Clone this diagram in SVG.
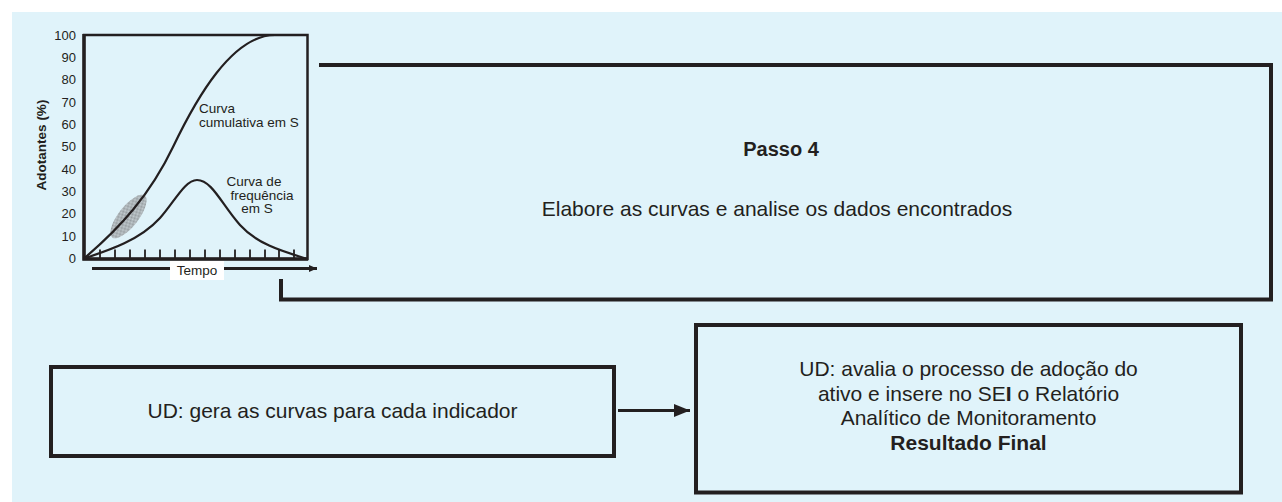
<svg xmlns="http://www.w3.org/2000/svg" width="1282" height="502" viewBox="0 0 1282 502">
<style>
text{font-family:"Liberation Sans",Arial,Helvetica,sans-serif;fill:#231f20}
.box{fill:#e0f3fa;stroke:#231f20;stroke-width:4}
.big{font-size:21px}
.ax{font-size:13px}
.lbl{font-size:13.5px}
.ln{fill:none;stroke:#231f20}
</style>
<defs>
<pattern id="hatch" width="2" height="2" patternUnits="userSpaceOnUse">
<rect width="2" height="2" fill="#c4ccd0"/>
<rect width="1" height="1" fill="#8a8f92"/>
<rect x="1" y="1" width="1" height="1" fill="#8a8f92"/>
</pattern>
<marker id="ah" markerWidth="8" markerHeight="8" refX="8" refY="4" orient="auto" markerUnits="userSpaceOnUse">
<path d="M0,0.5 L8,4 L0,7.5 Z" fill="#231f20"/>
</marker>
</defs>
<rect x="12" y="12" width="1270" height="490" fill="#e0f3fa"/>

<g id="chart">
<rect x="84" y="35" width="223.5" height="224" fill="none" stroke="#231f20" stroke-width="2.5"/>
<path class="ln" stroke-width="3.5" d="M84,34 V259 H308"/>
<path class="ln" stroke-width="1.8" d="M100,249.5V259M115,249.5V259M130,249.5V259M145,249.5V259M160,249.5V259M175,249.5V259M190,249.5V259M205,249.5V259M220,249.5V259M235,249.5V259M250,249.5V259M265,249.5V259M279,249.5V259M294,249.5V259"/>
<ellipse cx="128.5" cy="216.5" rx="26.5" ry="10" transform="rotate(-52 128.5 216.5)" fill="url(#hatch)" opacity="0.9"/>
<path class="ln" stroke-width="2.2" d="M84,258.5 C120,228 150,195 173,147 C196,99 232,35 275,35 L307,35"/>
<path class="ln" stroke-width="2.2" d="M84,258.5 C110,250 140,240 160,218 C175,201 185,180 197,180 C212,180 222,205 240,225 C258,245 285,252 306,258.5"/>
<g text-anchor="end" class="ax">
<text x="76" y="39.7">100</text>
<text x="76" y="62">90</text>
<text x="76" y="84.4">80</text>
<text x="76" y="106.7">70</text>
<text x="76" y="129">60</text>
<text x="76" y="151.4">50</text>
<text x="76" y="173.7">40</text>
<text x="76" y="196">30</text>
<text x="76" y="218.4">20</text>
<text x="76" y="240.7">10</text>
<text x="76" y="263">0</text>
</g>
<text x="46" y="145" transform="rotate(-90 46 145)" text-anchor="middle" font-size="13.5" font-weight="bold">Adotantes (%)</text>
<text class="lbl" x="199" y="113">Curva</text>
<text class="lbl" x="199" y="127">cumulativa em S</text>
<text class="lbl" x="254" y="186" text-anchor="middle">Curva de</text>
<text class="lbl" x="262" y="199.5" text-anchor="middle">frequência</text>
<text class="lbl" x="257" y="213" text-anchor="middle">em S</text>
<line x1="92" y1="268.5" x2="317" y2="268.5" stroke="#231f20" stroke-width="2.8" marker-end="url(#ah)"/>
<rect x="170" y="261" width="54" height="19" fill="#ffffff"/>
<text class="lbl" x="197" y="275" text-anchor="middle">Tempo</text>
</g>

<g id="passo4">
<path d="M319,65 H1271 V299.5 H281 V279" fill="none" stroke="#231f20" stroke-width="4"/>
<text x="781" y="156" text-anchor="middle" font-size="20" font-weight="bold">Passo 4</text>
<text class="big" x="777" y="216" text-anchor="middle">Elabore as curvas e analise os dados encontrados</text>
</g>

<g id="box-gera">
<rect class="box" x="51" y="367" width="563" height="89"/>
<text class="big" x="332.5" y="418" text-anchor="middle">UD: gera as curvas para cada indicador</text>
</g>

<g id="box-avalia">
<rect class="box" x="696" y="325" width="545" height="167.5"/>
<g class="big" text-anchor="middle">
<text x="968.5" y="376">UD: avalia o processo de adoção do</text>
<text x="968.5" y="400.5">ativo e insere no SE<tspan font-weight="bold">I</tspan> o Relatório</text>
<text x="968.5" y="425">Analítico de Monitoramento</text>
<text x="968.5" y="449.5" font-weight="bold">Resultado Final</text>
</g>
</g>

<g id="connectors">
<line x1="618" y1="410.5" x2="690" y2="410.5" stroke="#231f20" stroke-width="3" marker-end="url(#ah2)"/>
</g>
<defs>
<marker id="ah2" markerWidth="16" markerHeight="14" refX="16" refY="7" orient="auto" markerUnits="userSpaceOnUse">
<path d="M0,0.5 L16,7 L0,13.5 Z" fill="#231f20"/>
</marker>
</defs>
</svg>
